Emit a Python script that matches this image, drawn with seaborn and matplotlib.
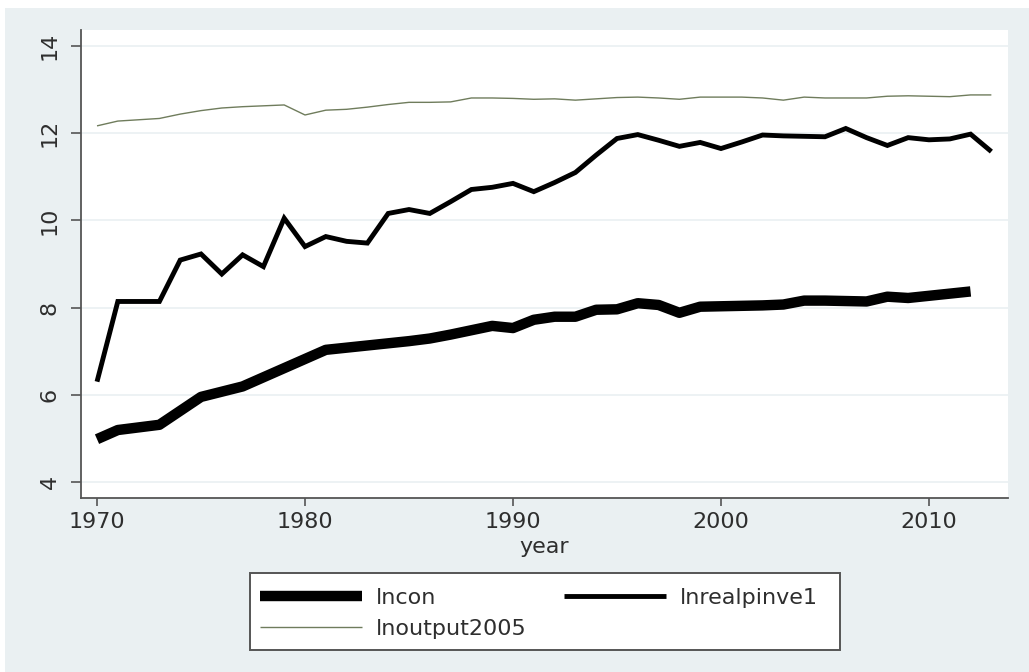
import matplotlib
matplotlib.use("Agg")
import matplotlib.pyplot as plt
from matplotlib.patches import Rectangle
import seaborn as sns
import pandas as pd

years = list(range(1970, 2014))

lncon = [4.98, 5.19, 5.25, 5.31, 5.63, 5.95, 6.07, 6.19, 6.40, 6.61,
         6.82, 7.03, 7.08, 7.13, 7.18, 7.23, 7.29, 7.38, 7.48, 7.58,
         7.53, 7.72, 7.79, 7.79, 7.95, 7.96, 8.10, 8.06, 7.88, 8.02,
         8.03, 8.04, 8.05, 8.07, 8.16, 8.16, 8.15, 8.14, 8.25, 8.22,
         8.27, 8.32, 8.37]

lnrealpinve1 = [6.30, 8.14, 8.14, 8.14, 9.09, 9.23, 8.77, 9.21, 8.94, 10.05,
                9.40, 9.63, 9.52, 9.48, 10.16, 10.25, 10.16, 10.43, 10.71, 10.76,
                10.85, 10.66, 10.87, 11.10, 11.50, 11.88, 11.97, 11.84, 11.70, 11.79,
                11.65, 11.80, 11.96, 11.94, 11.93, 11.92, 12.11, 11.90, 11.72, 11.90,
                11.85, 11.87, 11.98, 11.58]

lnoutput2005 = [12.17, 12.28, 12.31, 12.34, 12.44, 12.52, 12.58, 12.61, 12.63, 12.65,
                12.42, 12.53, 12.55, 12.60, 12.66, 12.71, 12.71, 12.72, 12.81, 12.81,
                12.80, 12.78, 12.79, 12.76, 12.79, 12.82, 12.83, 12.81, 12.78, 12.83,
                12.83, 12.83, 12.81, 12.76, 12.83, 12.81, 12.81, 12.81, 12.85, 12.86,
                12.85, 12.84, 12.88, 12.88]

x_ticks = [1970, 1980, 1990, 2000, 2010]
y_ticks = [4, 6, 8, 10, 12, 14]

bg = "#eaf0f2"
ink = "#2e2e2e"

sns.set_style("white")
plt.rcParams["font.family"] = ["DejaVu Sans"]

fig = plt.figure(figsize=(10.29, 6.72), dpi=100, facecolor="white")
# Stata-like graph region
fig.patches.append(Rectangle((5 / 1029, 0), 1 - 5 / 1029, 1 - 8 / 672,
                             transform=fig.transFigure, facecolor=bg,
                             edgecolor="none", zorder=-10))

ax = fig.add_axes([81 / 1029, 1 - 498 / 672, 927 / 1029, 468 / 672])
ax.set_facecolor("white")

df_con = pd.DataFrame({"year": years[:len(lncon)], "value": lncon})
df_inv = pd.DataFrame({"year": years, "value": lnrealpinve1})
df_out = pd.DataFrame({"year": years, "value": lnoutput2005})

for yv in y_ticks:
    ax.axhline(yv, color=bg, lw=1.2, zorder=0)

sns.lineplot(data=df_out, x="year", y="value", ax=ax, color="#6f7c5c",
             lw=1.0, label="lnoutput2005", legend=False,
             solid_capstyle="butt")
sns.lineplot(data=df_inv, x="year", y="value", ax=ax, color="black",
             lw=3.5, label="lnrealpinve1", legend=False,
             solid_capstyle="butt", solid_joinstyle="miter")
sns.lineplot(data=df_con, x="year", y="value", ax=ax, color="black",
             lw=7.5, label="lncon", legend=False,
             solid_capstyle="butt", solid_joinstyle="round")

ax.set_xlim(1969.23, 2013.8)
ax.set_ylim(3.63, 14.37)
ax.set_xticks(x_ticks)
ax.set_yticks(y_ticks)
ax.set_xticklabels([str(v) for v in x_ticks])
ax.set_yticklabels([str(v) for v in y_ticks], rotation=90, va="center")

for s in ["top", "right"]:
    ax.spines[s].set_visible(False)
for s in ["left", "bottom"]:
    ax.spines[s].set_color("#555555")
    ax.spines[s].set_linewidth(1.3)

ax.tick_params(axis="both", direction="out", length=6, width=1.2,
               bottom=True, left=True,
               color="#555555", labelcolor=ink, labelsize=16)
ax.tick_params(axis="x", pad=4)
ax.tick_params(axis="y", length=7.5, pad=8)
ax.set_xlabel("year", fontsize=16, color=ink, labelpad=4)
ax.set_ylabel("")

# legend box
fig.patches.append(Rectangle((250 / 1029, 1 - 650 / 672), 590 / 1029, 77 / 672,
                             transform=fig.transFigure, facecolor="white",
                             edgecolor="#555555", lw=1.4, zorder=5))

h, l = ax.get_legend_handles_labels()
order = ["lncon", "lnoutput2005", "lnrealpinve1"]
hs = [h[l.index(o)] for o in order]
leg = fig.legend(hs, order, loc="upper left",
                 bbox_to_anchor=(260 / 1029, 1 - 588 / 672), ncol=2,
                 frameon=False, fontsize=16, handlelength=4.6,
                 handletextpad=0.6, columnspacing=1.7, labelspacing=0.5,
                 borderpad=0, borderaxespad=0)
leg.set_zorder(6)
for t in leg.get_texts():
    t.set_color(ink)

fig.savefig("out.png", dpi=100, facecolor=fig.get_facecolor())
